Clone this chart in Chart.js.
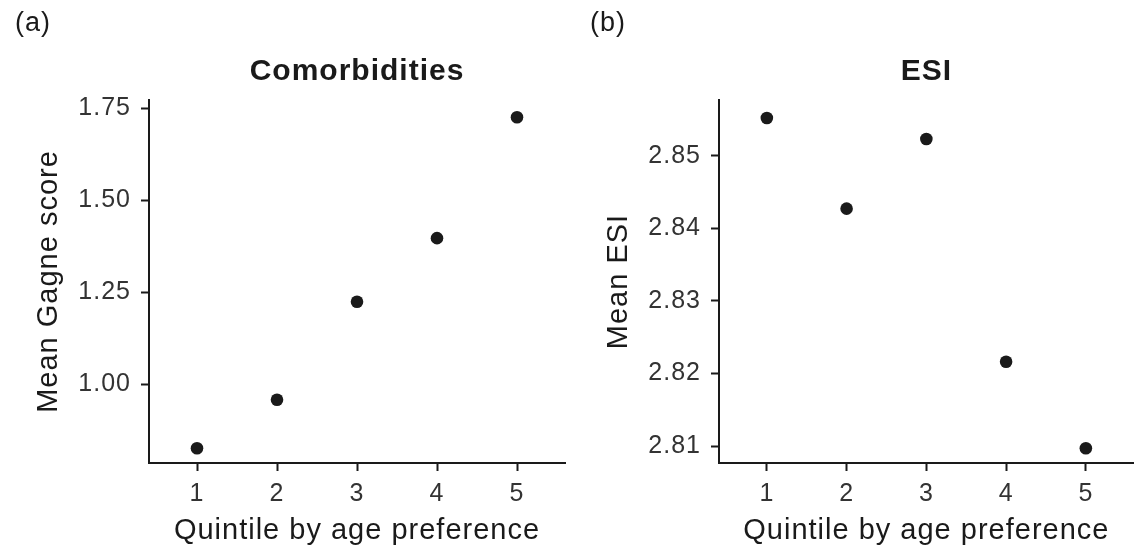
<!DOCTYPE html>
<html>
<head>
<meta charset="utf-8">
<script src="https://cdn.jsdelivr.net/npm/chart.js@4/dist/chart.umd.min.js"></script>
<style>
  html, body { margin: 0; padding: 0; background: #fff; overflow: hidden; }
  body { width: 1136px; height: 556px; position: relative; }
  .panel { position: absolute; top: 0; height: 556px; }
  #panelA { left: 0; width: 578px; }
  #panelB { left: 578px; width: 562px; }
</style>
</head>
<body>
<div class="panel" id="panelA"><canvas id="chartA"></canvas></div>
<div class="panel" id="panelB"><canvas id="chartB"></canvas></div>
<script>
// ---- data ----
const quintiles = [1, 2, 3, 4, 5];
const gagneMeans = [0.825, 0.957, 1.224, 1.397, 1.726];
const esiMeans = [2.8552, 2.8427, 2.8523, 2.8216, 2.8097];
const xTicks = [1, 2, 3, 4, 5];
const gagneTicks = [1.00, 1.25, 1.50, 1.75];
const esiTicks = [2.81, 2.82, 2.83, 2.84, 2.85];

const FONT = "'Liberation Sans', Arial, Helvetica, sans-serif";
const INK = '#1a1a1a';

// the original text is a bit wider, spread the letters a little
const spacing = {
    id: 'spacing',
    beforeUpdate(chart) { chart.ctx.letterSpacing = '1px'; },
    beforeDraw(chart) { chart.ctx.letterSpacing = '1px'; }
};

// panel tag, "(a)" / "(b)"
const panelTag = {
    id: 'panelTag',
    afterDraw(chart, args, opts) {
        const ctx = chart.ctx;
        ctx.save();
        ctx.font = '27px ' + FONT;
        ctx.fillStyle = INK;
        ctx.textAlign = 'left';
        ctx.textBaseline = 'middle';
        ctx.fillText(opts.text, opts.x, opts.y);
        ctx.restore();
    }
};

function makePanel(canvasId, o) {
    const pts = quintiles.map((q, i) => ({ x: q, y: o.values[i] }));
    return new Chart(document.getElementById(canvasId), {
        type: 'scatter',
        data: { datasets: [{ data: pts, backgroundColor: INK, borderColor: INK, pointRadius: 6.3, pointHoverRadius: 6.3, borderWidth: 0 }] },
        options: {
            responsive: true,
            maintainAspectRatio: false,
            animation: false,
            layout: { padding: { left: 0, top: 40, right: o.padRight, bottom: 0 } },
            plugins: {
                legend: { display: false },
                tooltip: { enabled: false },
                title: {
                    display: true, text: o.title, fullSize: false, color: INK,
                    font: { family: FONT, size: 30, weight: 'bold' },
                    padding: { top: 14, bottom: 10 }
                },
                panelTag: { text: o.tag, x: o.tagX, y: 24 }
            },
            scales: {
                x: {
                    type: 'linear', min: 0.4, max: 5.6,
                    afterBuildTicks: s => { s.ticks = xTicks.map(v => ({ value: v })); },
                    afterFit: s => { s.height = 93; },
                    border: { display: true, color: INK, width: 2 },
                    grid: { drawOnChartArea: false, drawTicks: true, tickLength: 8, tickWidth: 2, tickColor: INK },
                    ticks: { color: '#333', padding: 8, font: { family: FONT, size: 25 } },
                    title: { display: true, text: 'Quintile by age preference', color: INK, font: { family: FONT, size: 29 }, padding: { top: 0, bottom: 8 } }
                },
                y: {
                    min: o.yMin, max: o.yMax,
                    afterBuildTicks: s => { s.ticks = o.yTicks.map(v => ({ value: v })); },
                    afterFit: s => { s.width = o.axisLeft; },
                    border: { display: true, color: INK, width: 2 },
                    grid: { drawOnChartArea: false, drawTicks: true, tickLength: 8, tickWidth: 2, tickColor: INK },
                    ticks: { color: '#333', padding: 10, font: { family: FONT, size: 25 }, callback: v => v.toFixed(o.decimals) },
                    title: { display: true, text: o.yTitle, color: INK, font: { family: FONT, size: 29 }, padding: { top: o.yTitlePad, bottom: 0 } }
                }
            }
        },
        plugins: [spacing, panelTag]
    });
}

makePanel('chartA', {
    values: gagneMeans, title: 'Comorbidities', yTitle: 'Mean Gagne score',
    yTicks: gagneTicks, yMin: 0.785, yMax: 1.773, decimals: 2,
    axisLeft: 149, padRight: 13, yTitlePad: 32, tag: '(a)', tagX: 15
});

makePanel('chartB', {
    values: esiMeans, title: 'ESI', yTitle: 'Mean ESI',
    yTicks: esiTicks, yMin: 2.80766, yMax: 2.85767, decimals: 2,
    axisLeft: 141, padRight: 1, yTitlePad: 24, tag: '(b)', tagX: 12
});
</script>
</body>
</html>
